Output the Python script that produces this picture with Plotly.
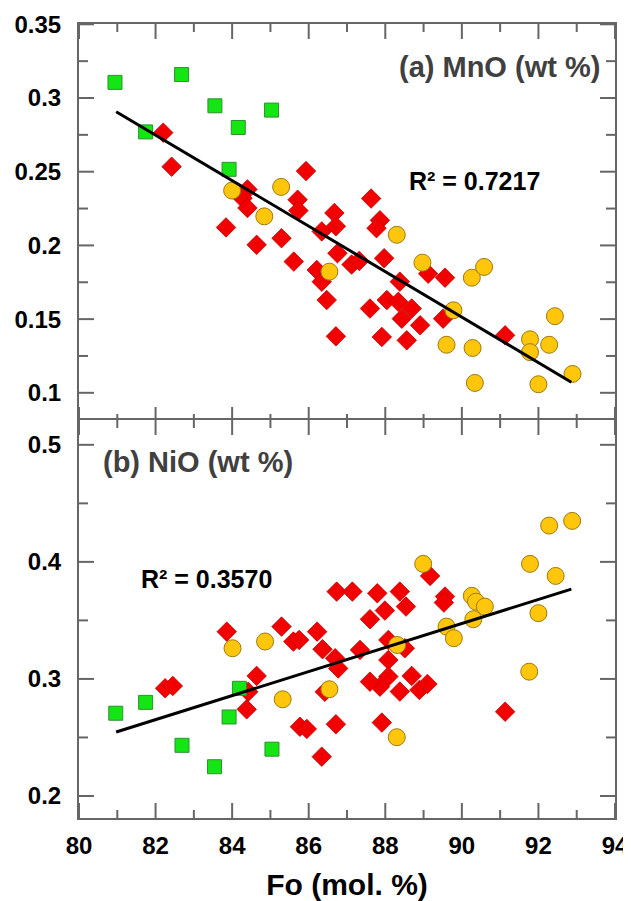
import plotly.graph_objects as go

# ---------------- data ----------------
# Panel (a) MnO
green_fo_mno = [80.94, 81.74, 82.68, 83.55, 84.16, 83.92, 85.03]
green_mno = [0.3106, 0.277, 0.3159, 0.2947, 0.280, 0.2516, 0.2918]

red_fo_mno = [82.20, 82.42, 83.84, 84.40, 84.27, 84.40, 84.64, 85.29, 85.61, 85.71,
              85.73, 85.93, 86.21, 86.34, 86.34, 86.47, 86.67, 86.71, 86.75, 86.71,
              87.12, 87.32, 87.63, 87.86, 87.77, 87.97, 87.60, 87.91, 88.38, 88.04,
              88.34, 88.69, 88.43, 88.91, 88.56, 89.12, 89.56, 89.51, 91.13]
red_mno = [0.2765, 0.2534, 0.2122, 0.238, 0.232, 0.2254, 0.2004, 0.2049, 0.189, 0.231,
           0.2236, 0.2504, 0.1833, 0.1754, 0.2095, 0.1629, 0.222, 0.213, 0.1947, 0.1383,
           0.187, 0.1895, 0.2318, 0.217, 0.2117, 0.1913, 0.1572, 0.1379, 0.1754, 0.1629,
           0.1617, 0.1572, 0.1503, 0.1458, 0.1356, 0.1808, 0.1781, 0.1503, 0.139]

yellow_fo_mno = [84.00, 85.28, 84.84, 86.54, 88.30, 88.97, 90.26, 90.58, 89.78, 89.60,
                 90.28, 90.34, 91.78, 91.78, 92.28, 92.43, 92.00, 92.89]
yellow_mno = [0.2372, 0.2397, 0.2197, 0.1822, 0.2072, 0.1883, 0.1781, 0.1854, 0.156, 0.1326,
              0.1304, 0.1067, 0.1363, 0.1276, 0.1326, 0.152, 0.1058, 0.1128]

trend_fo = [80.97, 92.86]
trend_mno = [0.2907, 0.1072]
r2_mno = "R² = 0.7217"

# Panel (b) NiO
green_fo_nio = [80.96, 81.74, 82.69, 83.54, 83.92, 84.19, 85.04]
green_nio = [0.2707, 0.280, 0.2433, 0.225, 0.2675, 0.292, 0.240]

red_fo_nio = [82.25, 82.45, 83.86, 84.64, 84.42, 84.38, 85.29, 85.60, 85.75, 86.22,
              86.36, 85.77, 85.95, 86.34, 86.73, 87.14, 87.79, 88.38, 88.54, 87.99,
              87.60, 89.17, 89.56, 89.53, 86.69, 86.77, 87.34, 88.08, 88.51, 88.08,
              88.08, 87.86, 87.60, 88.38, 88.69, 88.89, 89.10, 91.13, 86.71, 87.91, 86.42]
red_nio = [0.292, 0.294, 0.3404, 0.3026, 0.289, 0.274, 0.3447, 0.3319, 0.3333, 0.3404,
           0.3254, 0.2592, 0.2573, 0.2336, 0.3746, 0.3746, 0.3732, 0.3746, 0.3618, 0.3584,
           0.351, 0.388, 0.3704, 0.3652, 0.3177, 0.309, 0.3248, 0.3333, 0.3262, 0.3162,
           0.302, 0.2934, 0.2977, 0.2892, 0.3026, 0.2906, 0.2957, 0.272, 0.2613, 0.2627, 0.289]

yellow_fo_nio = [84.01, 84.86, 85.32, 86.54, 88.31, 88.30, 88.99, 89.60, 89.79, 90.26,
                 90.37, 90.60, 90.30, 91.78, 91.76, 92.00, 92.45, 92.28, 92.88]
yellow_nio = [0.3262, 0.332, 0.2826, 0.2912, 0.329, 0.2502, 0.3983, 0.3447, 0.3348, 0.371,
              0.366, 0.3618, 0.351, 0.3983, 0.3062, 0.3562, 0.388, 0.431, 0.435]

trend_nio = [0.2547, 0.3767]
r2_nio = "R² = 0.3570"

# axis ticks
x_ticks = [80, 82, 84, 86, 88, 90, 92, 94]
x_minor_ticks = [81, 83, 85, 87, 89, 91, 93]
mno_ticks = [0.1, 0.15, 0.2, 0.25, 0.3, 0.35]
mno_ticklabels = ["0.1", "0.15", "0.2", "0.25", "0.3", "0.35"]
mno_minor_ticks = [0.125, 0.175, 0.225, 0.275, 0.325]
nio_ticks = [0.2, 0.3, 0.4, 0.5]
nio_ticklabels = ["0.2", "0.3", "0.4", "0.5"]
nio_minor_ticks = [0.25, 0.35, 0.45]

# ---------------- styles ----------------
FONT = "Liberation Sans, Arial, sans-serif"
AXCOL = "#666666"
RED = dict(color="#f20000", size=15, symbol="diamond", line=dict(color="#c40000", width=0.8))
GREEN = dict(color="#14e614", size=14, symbol="square", line=dict(color="#2f8f2f", width=1))
YELLOW = dict(color="#ffc60b", size=17, symbol="circle", line=dict(color="#9c7a10", width=1))

# page has an 8 px body margin: figure is 623x893 placed at (8, 8)
W, HT = 623, 893
ML, MR, MT, MB = 71, 16, 16, 83
H = HT - MT - MB
eps = 1.0 / H
X_RANGE = [80, 94]
MNO_RANGE = [0.0802, 0.3502]
NIO_RANGE = [0.1812, 0.5212]

fig = go.Figure()

def tick_trace(xa, ya, yrng, ymaj, ymin):
    """inside tick marks on all four sides, built from the tick value lists"""
    pw = W - ML - MR
    ph = H * (0.5 + eps)
    ux = (X_RANGE[1] - X_RANGE[0]) / pw          # data units per pixel, x
    uy = (yrng[1] - yrng[0]) / ph                # data units per pixel, y
    xs, ys = [], []
    for vals, ln in ((x_ticks, 15), (x_minor_ticks, 8)):
        for v in vals:
            xs += [v, v, None, v, v, None]
            ys += [yrng[0], yrng[0] + ln * uy, None, yrng[1], yrng[1] - ln * uy, None]
    for vals, ln in ((ymaj, 15), (ymin, 9)):
        for v in vals:
            xs += [X_RANGE[0], X_RANGE[0] + ln * ux, None, X_RANGE[1], X_RANGE[1] - ln * ux, None]
            ys += [v, v, None, v, v, None]
    return go.Scatter(x=xs, y=ys, mode="lines", line=dict(color=AXCOL, width=2),
                      connectgaps=False, xaxis=xa, yaxis=ya, hoverinfo="skip",
                      showlegend=False, cliponaxis=False)

def add_panel(xa, ya, gx, gy, rx, ry, yx, yy, ty, yrng, ymaj, ymin):
    fig.add_trace(tick_trace(xa, ya, yrng, ymaj, ymin))
    fig.add_trace(go.Scatter(x=rx, y=ry, mode="markers", marker=RED, xaxis=xa, yaxis=ya, showlegend=False))
    fig.add_trace(go.Scatter(x=gx, y=gy, mode="markers", marker=GREEN, xaxis=xa, yaxis=ya, showlegend=False))
    fig.add_trace(go.Scatter(x=yx, y=yy, mode="markers", marker=YELLOW, xaxis=xa, yaxis=ya, showlegend=False))
    fig.add_trace(go.Scatter(x=trend_fo, y=ty, mode="lines", line=dict(color="black", width=3),
                             xaxis=xa, yaxis=ya, showlegend=False))

add_panel("x", "y", green_fo_mno, green_mno, red_fo_mno, red_mno, yellow_fo_mno, yellow_mno, trend_mno,
          MNO_RANGE, mno_ticks, mno_minor_ticks)
add_panel("x2", "y2", green_fo_nio, green_nio, red_fo_nio, red_nio, yellow_fo_nio, yellow_nio, trend_nio,
          NIO_RANGE, nio_ticks, nio_minor_ticks)

tickfont = dict(family=FONT, size=24, color="black", weight="bold")

def xaxis_common(show_labels, anchor):
    return dict(range=X_RANGE, tickmode="array", tickvals=x_ticks, ticks="",
                showline=True, linecolor=AXCOL, linewidth=2, mirror=True,
                showgrid=False, zeroline=False, showticklabels=show_labels, tickfont=tickfont,
                anchor=anchor, domain=[0, 1], automargin=False, ticklabelstandoff=5)

def yaxis_common(rng, tv, tt, dom, anchor):
    return dict(range=rng, tickmode="array", tickvals=tv, ticktext=tt, ticks="",
                showline=True, linecolor=AXCOL, linewidth=2, mirror=True,
                showgrid=False, zeroline=False, tickfont=tickfont, domain=dom, anchor=anchor,
                automargin=False, ticklabelstandoff=11)

fig.update_layout(
    width=W, height=HT,
    margin=dict(l=ML, r=MR, t=MT, b=MB),
    paper_bgcolor="white", plot_bgcolor="white",
    font=dict(family=FONT, color="black"),
    xaxis=xaxis_common(False, "y"),
    yaxis=yaxis_common(MNO_RANGE, mno_ticks, mno_ticklabels, [0.5 - eps, 1], "x"),
    xaxis2=dict(xaxis_common(True, "y2"),
                title=dict(text="Fo (mol. %)", font=dict(family=FONT, size=30, color="black", weight="bold"),
                           standoff=18)),
    yaxis2=yaxis_common(NIO_RANGE, nio_ticks, nio_ticklabels, [0, 0.5 + eps], "x2"),
)

labfont = dict(family=FONT, size=29, color="#404040", weight="bold")
r2font = dict(family=FONT, size=25, color="black", weight="bold")
fig.add_annotation(x=93.65, y=0.3207, xref="x", yref="y", text="(a) MnO (wt %)", showarrow=False,
                   xanchor="right", yanchor="middle", font=labfont)
fig.add_annotation(x=90.34, y=0.244, xref="x", yref="y", text=r2_mno, showarrow=False,
                   xanchor="center", yanchor="middle", font=r2font)
fig.add_annotation(x=80.58, y=0.4855, xref="x2", yref="y2", text="(b) NiO (wt %)", showarrow=False,
                   xanchor="left", yanchor="middle", font=labfont)
fig.add_annotation(x=83.34, y=0.3855, xref="x2", yref="y2", text=r2_nio, showarrow=False,
                   xanchor="center", yanchor="middle", font=r2font)

fig.write_html("out.html")
